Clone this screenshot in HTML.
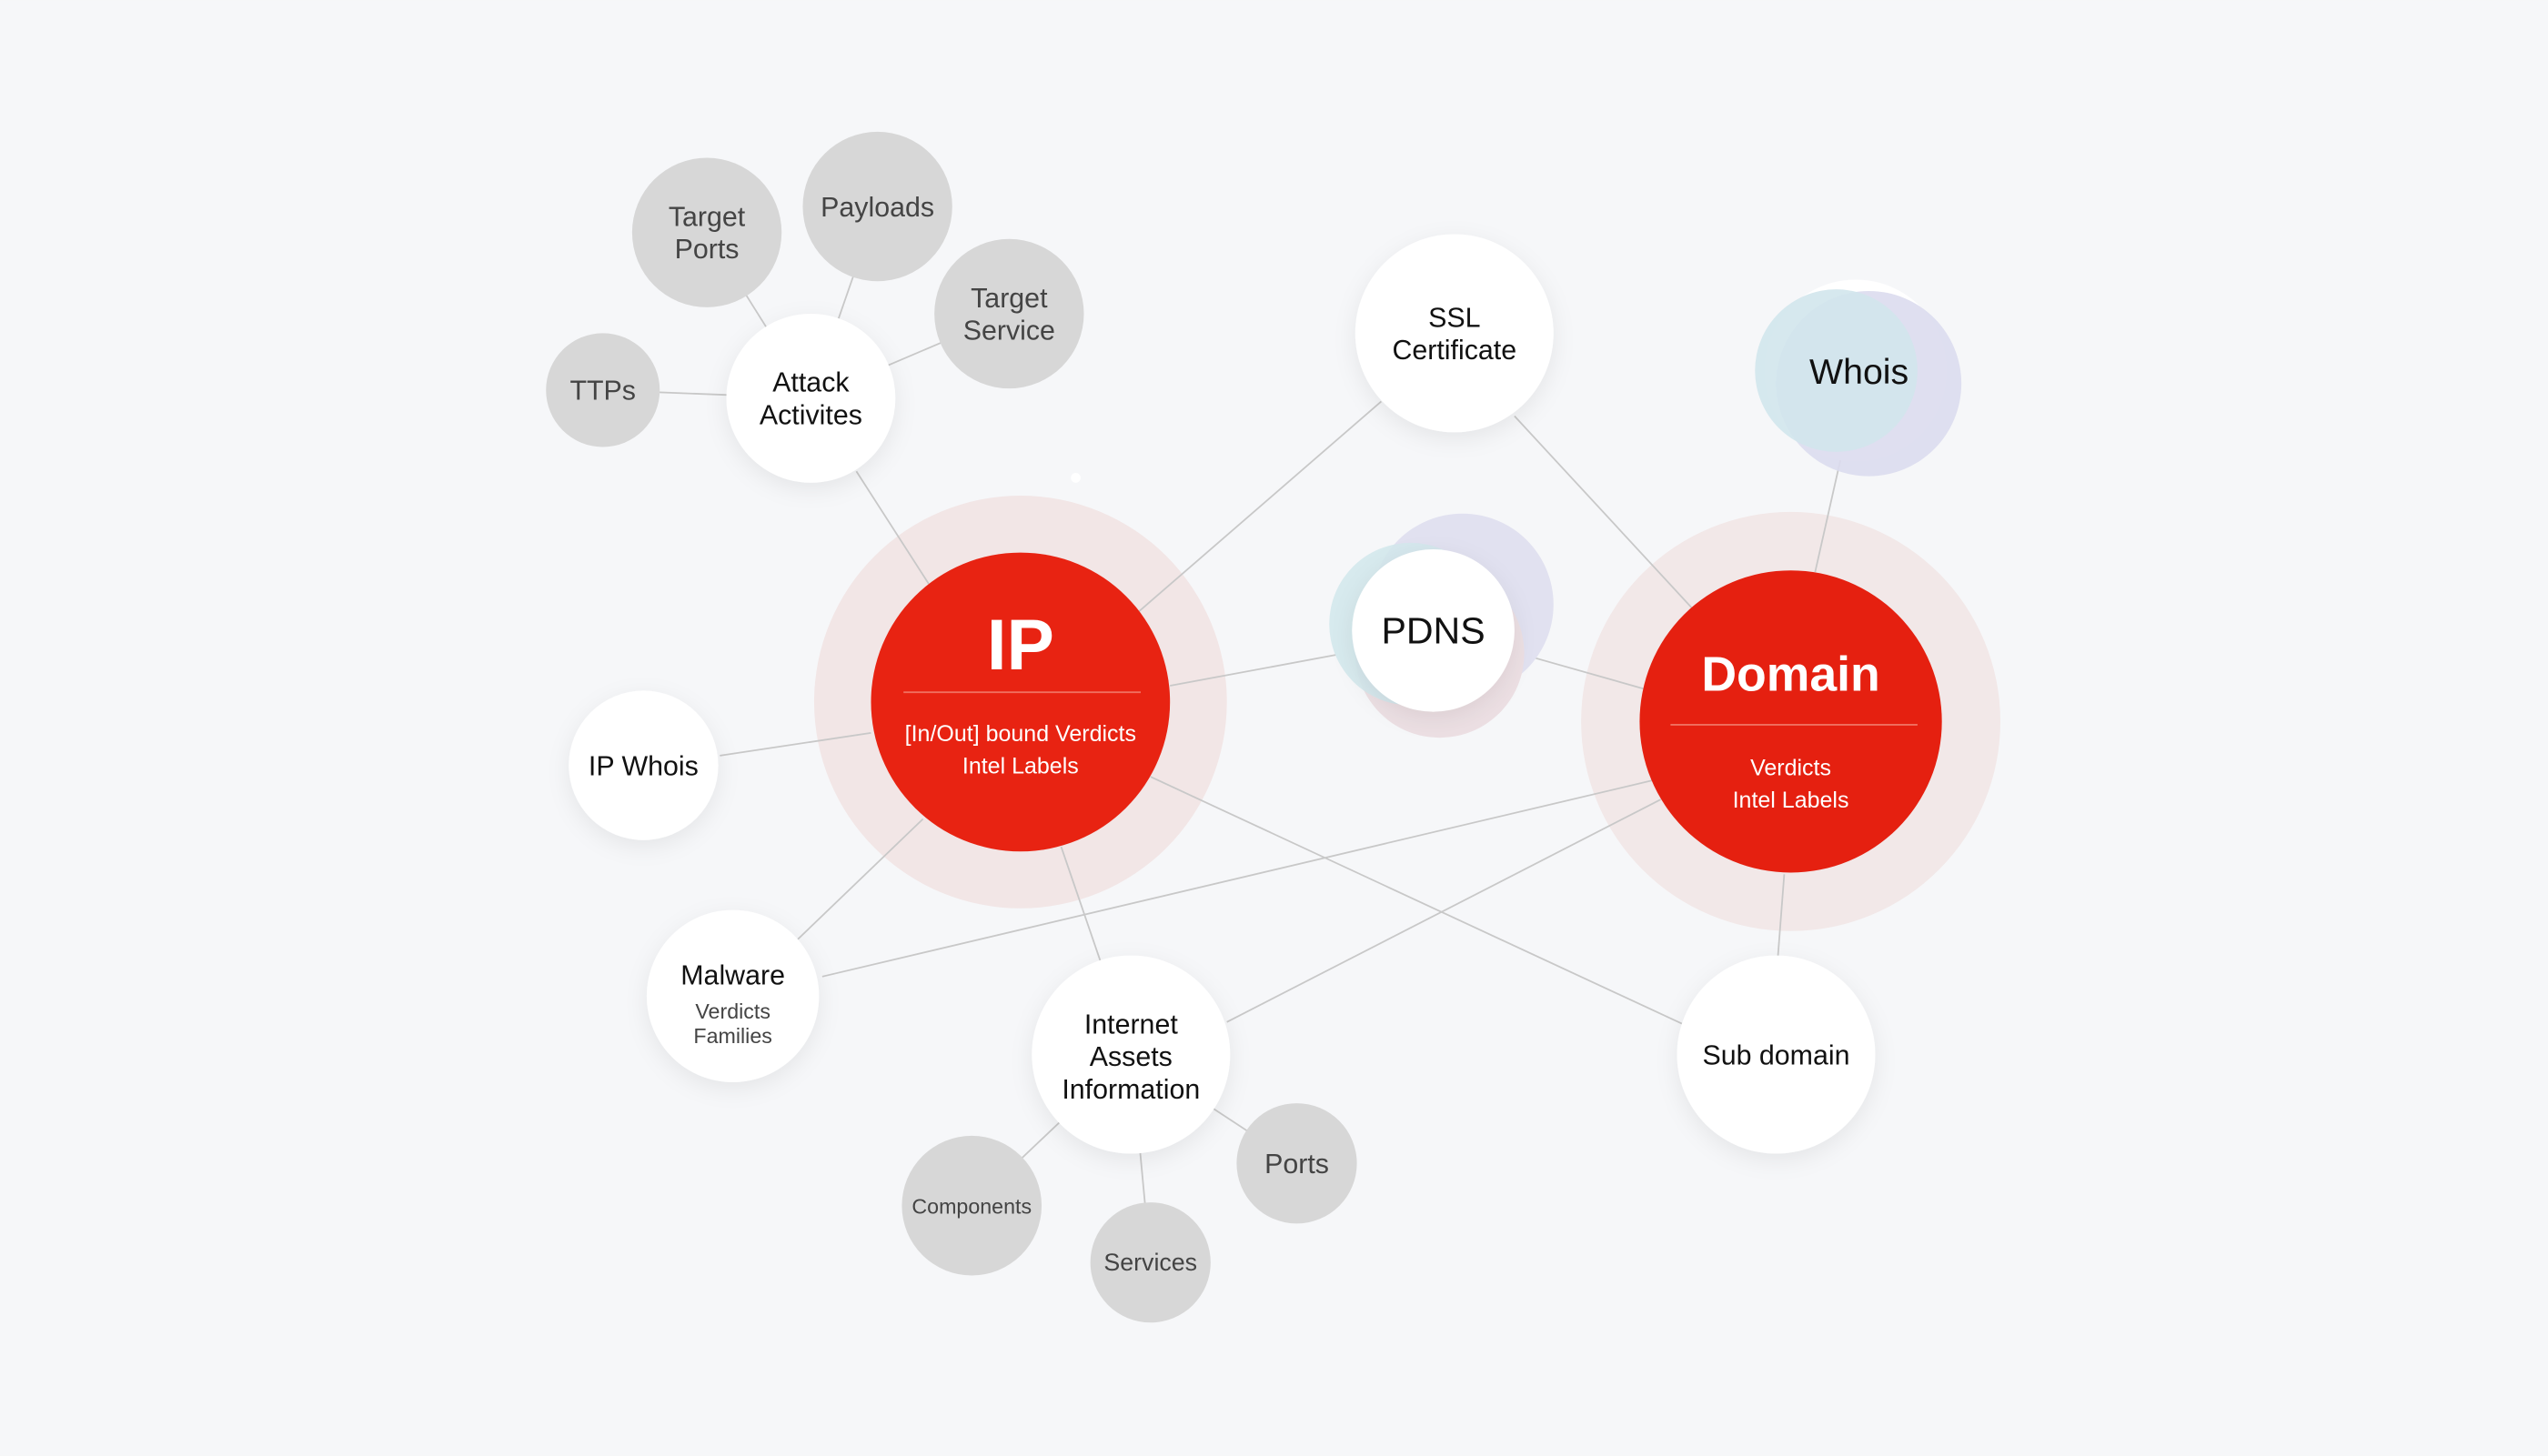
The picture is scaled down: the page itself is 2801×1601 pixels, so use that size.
<!DOCTYPE html>
<html><head><meta charset="utf-8"><style>
html,body{margin:0;padding:0;background:#f6f7f9;}
svg{display:block;}
text{font-family:"Liberation Sans",sans-serif;text-anchor:middle;}
</style></head><body>
<svg width="2801" height="1601" viewBox="0 0 1568 896" xmlns="http://www.w3.org/2000/svg">
<defs>
<filter id="sh" x="-50%" y="-50%" width="200%" height="200%"><feDropShadow dx="0" dy="4" stdDeviation="7" flood-color="#000" flood-opacity="0.07"/></filter>
</defs>
<rect width="1568" height="896" fill="#f6f7f9"/>
<circle cx="628" cy="432" r="127" fill="#f2e6e6"/>
<circle cx="1102" cy="444" r="129" fill="#f2e8e8"/>
<circle cx="662" cy="294" r="3" fill="#fff"/>
<g stroke="#c8c8c8" stroke-width="1">
<line x1="527" y1="290" x2="572" y2="360"/>
<line x1="850" y1="247" x2="700" y2="377"/>
<line x1="932" y1="256" x2="1042" y2="375"/>
<line x1="720" y1="422" x2="822" y2="403"/>
<line x1="945" y1="405" x2="1012" y2="424"/>
<line x1="443" y1="465" x2="536" y2="451"/>
<line x1="491" y1="578" x2="568" y2="504"/>
<line x1="506" y1="601" x2="1018" y2="480"/>
<line x1="653" y1="521" x2="677" y2="591"/>
<line x1="708" y1="478" x2="1035" y2="630"/>
<line x1="755" y1="629" x2="1022" y2="492"/>
<line x1="1098" y1="538" x2="1094" y2="590"/>
<line x1="1140" y1="250" x2="1117" y2="352"/>
<line x1="371" y1="240" x2="499" y2="245"/>
<line x1="435" y1="143" x2="499" y2="245"/>
<line x1="540" y1="127" x2="499" y2="245"/>
<line x1="621" y1="193" x2="499" y2="245"/>
<line x1="696" y1="649" x2="598" y2="742"/>
<line x1="696" y1="649" x2="708" y2="777"/>
<line x1="696" y1="649" x2="798" y2="716"/>
</g>
<g fill="#d7d7d7">
<circle cx="435" cy="143" r="46"/><circle cx="540" cy="127" r="46"/>
<circle cx="621" cy="193" r="46"/><circle cx="371" cy="240" r="35"/>
<circle cx="598" cy="742" r="43"/><circle cx="708" cy="777" r="37"/>
<circle cx="798" cy="716" r="37"/>
</g>
<g fill="#444" font-size="17">
<text x="435" y="139">Target</text><text x="435" y="159">Ports</text>
<text x="540" y="133">Payloads</text>
<text x="621" y="189">Target</text><text x="621" y="209">Service</text>
<text x="371" y="246">TTPs</text>
<text x="598" y="747" font-size="13">Components</text>
<text x="708" y="782" font-size="15">Services</text>
<text x="798" y="722">Ports</text>
</g>
<circle cx="1142" cy="228" r="56" fill="#fff"/>
<circle cx="1150" cy="236" r="57" fill="#dcdcee" opacity="0.9"/>
<circle cx="1130" cy="228" r="50" fill="#d2e6ec" opacity="0.9"/>
<circle cx="900" cy="372" r="56" fill="#e1e1f0"/>
<circle cx="886" cy="402" r="52" fill="#ecdfe3"/>
<circle cx="868" cy="384" r="50" fill="#d4e8ec" opacity="0.9"/>
<g fill="#fff" filter="url(#sh)">
<circle cx="882" cy="388" r="50"/>
<circle cx="895" cy="205" r="61"/>
<circle cx="499" cy="245" r="52"/>
<circle cx="396" cy="471" r="46"/>
<circle cx="451" cy="613" r="53"/>
<circle cx="696" cy="649" r="61"/>
<circle cx="1093" cy="649" r="61"/>
</g>
<g fill="#111" font-size="17">
<text x="882" y="396" font-size="23">PDNS</text>
<text x="1144" y="236" font-size="22">Whois</text>
<text x="895" y="201">SSL</text><text x="895" y="221">Certificate</text>
<text x="499" y="241">Attack</text><text x="499" y="261">Activites</text>
<text x="396" y="477">IP Whois</text>
<text x="451" y="606">Malware</text>
<text x="451" y="627" font-size="13" fill="#444">Verdicts</text>
<text x="451" y="642" font-size="13" fill="#444">Families</text>
<text x="696" y="636">Internet</text><text x="696" y="656">Assets</text><text x="696" y="676">Information</text>
<text x="1093" y="655">Sub domain</text>
</g>
<circle cx="628" cy="432" r="92" fill="#e82312"/>
<circle cx="1102" cy="444" r="93" fill="#e52010"/>
<g fill="#fff">
<text x="628" y="412" font-size="44" font-weight="bold">IP</text>
<line x1="556" y1="426" x2="702" y2="426" stroke="#f07060" stroke-width="1"/>
<text x="628" y="456" font-size="14">[In/Out] bound Verdicts</text>
<text x="628" y="476" font-size="14">Intel Labels</text>
<text x="1102" y="425" font-size="30" font-weight="bold">Domain</text>
<line x1="1028" y1="446" x2="1180" y2="446" stroke="#f07060" stroke-width="1"/>
<text x="1102" y="477" font-size="14">Verdicts</text>
<text x="1102" y="497" font-size="14">Intel Labels</text>
</g>
</svg>
</body></html>
